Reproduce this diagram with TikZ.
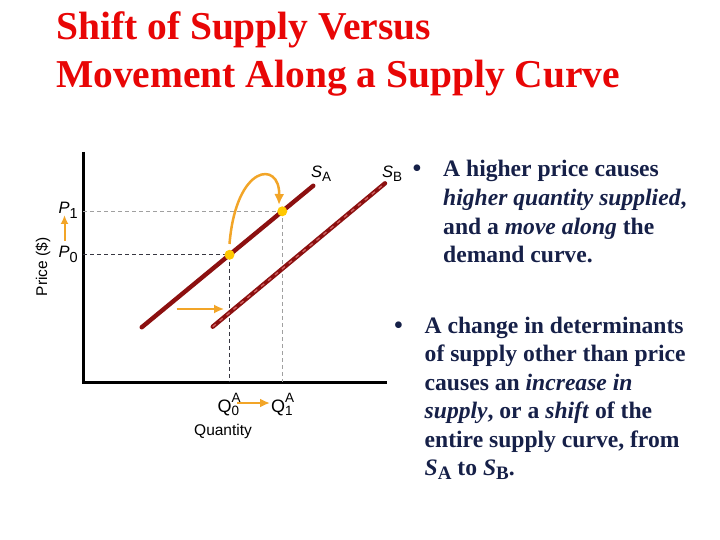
\documentclass[tikz,border=0pt]{standalone}
\usepackage{fontspec}
\setmainfont{Liberation Serif}
\newfontfamily\gsans{Liberation Sans}
\usetikzlibrary{arrows.meta}
\definecolor{titlered}{RGB}{232,6,6}
\definecolor{navy}{RGB}{22,32,72}
\definecolor{darkred}{RGB}{140,16,16}
\definecolor{lightred}{RGB}{205,95,95}
\definecolor{orng}{RGB}{242,165,40}
\definecolor{gold}{RGB}{255,200,0}
\definecolor{dgray}{RGB}{55,55,65}
\definecolor{lgray}{RGB}{160,160,160}
\newcommand\titlefont{\fontsize{39.5}{40}\selectfont\bfseries}
\newcommand\bodyfont{\fontsize{23.6}{24}\selectfont\bfseries}
\newcommand\labfont{\gsans\fontsize{15.5}{16}\selectfont}
\newcommand\smallsans{\gsans\fontsize{13.5}{13.5}\selectfont}
\tikzset{
  titletext/.style={anchor=base west, inner sep=0pt, text=titlered, font=\titlefont},
  bodytext/.style={anchor=base west, inner sep=0pt, text=navy, font=\bodyfont},
  bullettext/.style={anchor=base west, inner sep=0pt, text=navy, font=\fontsize{28}{28}\selectfont},
  lab/.style={anchor=base west, inner sep=0pt, text=black, font=\labfont},
  axis/.style={line width=3pt, black},
  guide0/.style={dgray, line width=1.3pt, dash pattern=on 4pt off 3pt},
  guide1/.style={lgray, line width=1.3pt, dash pattern=on 4pt off 3pt},
  supply/.style={darkred, line width=4.4pt, line cap=round},
  orarrow/.style={orng, line width=1.7pt, -{Latex[length=10pt,width=9pt]}},
  dotpt/.style={circle, fill=gold, inner sep=0pt, minimum size=10pt}
}
\begin{document}
\begin{tikzpicture}[x=1pt,y=-1pt]
\useasboundingbox (0,0) rectangle (720,540);
% title
\node[titletext] (t1) at (56,40) {Shift of Supply Versus};
\node[titletext] (t2) at (56,87.5) {Movement Along a Supply Curve};
% axes
\coordinate (O) at (83,382);
\coordinate (ytop) at (83,152);
\coordinate (xend) at (387,382);
\draw[axis] (ytop) -- (O) -- (xend);
% supply curves
\coordinate (sa1) at (141.7,327.3);
\coordinate (sa2) at (313.3,185.7);
\coordinate (sb1) at (212.7,326.7);
\coordinate (sb2) at (385,183.3);
\coordinate (p0) at (229.5,254.8);
\coordinate (p1) at (282.3,211.3);
% guide lines
\draw[guide0] (O |- p0) -- (p0);
\draw[guide0] (p0) -- (p0 |- O);
\draw[guide1] (O |- p1) -- (p1);
\draw[guide1] (p1) -- (p1 |- O);
\draw[supply] (sa1) -- (sa2);
\draw[supply] (sb1) -- (sb2);
\draw[lightred, line width=1.4pt, dash pattern=on 4pt off 5pt] (sb1) -- (sb2);
% points
\node[dotpt] (d0) at (p0) {};
\node[dotpt] (d1) at (p1) {};
% curved arrow
\coordinate (cs) at (229.5,244);
\coordinate (ce) at (279,205);
\draw[orarrow, line width=2.5pt, -{Latex[length=11pt,width=10pt]}] (cs) .. controls (236,164) and (280,160) .. (ce);
% shift arrow
\coordinate (sh1) at (176.7,309);
\coordinate (sh2) at (224,309);
\draw[orarrow] (sh1) -- (sh2);
% axis labels
\node[lab, anchor=center, rotate=90] (price) at (43,267) {Price (\$)};
\node[lab] (qty) at (194,435) {Quantity};
\node[lab, font=\gsans\fontsize{16.5}{16.5}\selectfont] (P1) at (58.5,214) {\textit{P}\raisebox{-4.5pt}{\fontsize{14.5}{14.5}\selectfont 1}};
\node[lab, font=\gsans\fontsize{16.5}{16.5}\selectfont] (P0) at (58.5,258) {\textit{P}\raisebox{-4.5pt}{\fontsize{14.5}{14.5}\selectfont 0}};
\coordinate (pa0) at (64.5,241);
\coordinate (pa1) at (64.5,215);
\draw[orarrow, line width=2pt, -{Latex[length=9pt,width=8pt]}] (pa0) -- (pa1);
\node[lab, font=\gsans\fontsize{18}{18}\selectfont] (Q0) at (217.5,412.7) {Q\rlap{\raisebox{10.5pt}{\smallsans A}}\raisebox{-3pt}{\smallsans 0}};
\node[lab, font=\gsans\fontsize{18}{18}\selectfont] (Q1) at (271,412.7) {Q\rlap{\raisebox{10.5pt}{\smallsans A}}\raisebox{-3pt}{\smallsans 1}};
\coordinate (qa) at (237,403);
\coordinate (qb) at (270,403);
\draw[orarrow, line width=2pt] (qa) -- (qb);
\node[lab, font=\gsans\fontsize{16.5}{16.5}\selectfont] (SA) at (311,178) {\textit{S}\raisebox{-4pt}{\smallsans A}};
\node[lab, font=\gsans\fontsize{16.5}{16.5}\selectfont] (SB) at (382,178) {\textit{S}\raisebox{-4pt}{\smallsans B}};
% bullet 1
\node[bullettext] (b1) at (412,178) {\textbullet};
\node[bodytext] (l11) at (443,177) {A higher price causes};
\node[bodytext] (l12) at (443,205.5) {\textit{higher quantity supplied},};
\node[bodytext] (l13) at (443,234) {and a \textit{move along} the};
\node[bodytext] (l14) at (443,262.5) {demand curve.};
% bullet 2
\node[bullettext] (b2) at (393.5,334) {\textbullet};
\node[bodytext] (l21) at (424.5,333) {A change in determinants};
\node[bodytext] (l22) at (424.5,361.5) {of supply other than price};
\node[bodytext] (l23) at (424.5,390) {causes an \textit{increase in}};
\node[bodytext] (l24) at (424.5,418.5) {\textit{supply}, or a \textit{shift} of the};
\node[bodytext] (l25) at (424.5,447) {entire supply curve, from};
\node[bodytext] (l26) at (424.5,475.5) {\textit{S}\raisebox{-4pt}{\fontsize{19}{19}\selectfont A} to \textit{S}\raisebox{-4pt}{\fontsize{19}{19}\selectfont B}.};
\end{tikzpicture}
\end{document}
